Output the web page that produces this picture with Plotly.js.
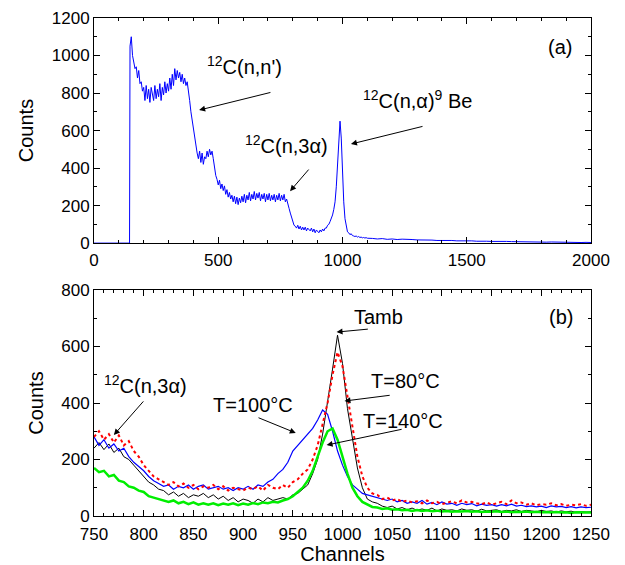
<!DOCTYPE html>
<html>
<head>
<meta charset="utf-8">
<script src="https://cdn.plot.ly/plotly-3.0.1.min.js"></script>
<style>html,body{margin:0;padding:0;background:#fff;}#chart{width:625px;height:565px;}</style>
</head>
<body>
<div id="chart"></div>
<script>
// ---------- Panel (a): full spectrum ----------
const aLeadChannels = [0, 143];
const aLeadCounts = [0, 0];
const aMainStart = 145, aMainStep = 5; // channels 145..1100
const aMainCounts = [
  1050, 1100, 1000, 970, 930, 940, 880, 920, 850, 860,
  810, 830, 760, 840, 770, 820, 750, 830, 790, 760,
  840, 770, 820, 780, 850, 760, 830, 790, 860, 800,
  850, 810, 880, 820, 900, 840, 930, 870, 920, 880,
  910, 860, 900, 850, 880, 840, 860, 790, 760, 700,
  650, 600, 560, 520, 480, 450, 490, 430, 480, 420,
  460, 450, 490, 460, 500, 470, 490, 450, 400, 360,
  340, 310, 335, 290, 315, 280, 305, 260, 285, 245,
  270, 235, 255, 220, 250, 210, 245, 205, 240, 215,
  250, 220, 260, 215, 255, 230, 270, 225, 260, 235,
  275, 230, 265, 240, 270, 225, 260, 235, 265, 220,
  260, 230, 265, 225, 255, 230, 260, 220, 255, 230,
  265, 225, 255, 230, 260, 220, 235, 200, 185, 160,
  135, 110, 95, 90, 80, 95, 75, 90, 70, 85,
  70, 85, 65, 80, 70, 65, 80, 60, 75, 55,
  70, 60, 55, 70, 60, 75, 65, 80, 80, 95,
  100, 115, 130, 150, 180, 220, 300, 420, 560, 650,
  560, 380, 220, 130, 80, 60, 55, 45, 50, 40,
  38, 35, 38, 32, 35, 30, 32, 28, 30, 27,
  29, 26
];
const aTailStart = 1120, aTailStep = 20; // channels 1120..2000
const aTailCounts = [
  25, 22, 24, 20, 22, 19, 21, 18, 19, 17,
  18, 15, 16, 14, 15, 13, 14, 12, 13, 11,
  12, 10, 11, 10, 9, 10, 8, 9, 8, 7,
  8, 7, 6, 7, 6, 5, 6, 5, 4, 5,
  4, 4, 3, 4, 3
];

// ---------- Panel (b): zoom 750..1250 ----------
const bStart = 750, bStep = 5;
const tambCounts = [
  240, 260, 235, 255, 225, 240, 210, 200, 180, 160,
  140, 120, 110, 95, 90, 75, 85, 70, 80, 65,
  75, 70, 80, 65, 75, 60, 70, 55, 65, 50,
  60, 55, 45, 60, 50, 65, 55, 60, 65, 60,
  75, 80, 95, 110, 150, 200, 290, 400, 520, 640,
  540, 380, 270, 170, 100, 60, 50, 45, 35, 30,
  35, 25, 30, 22, 28, 20, 25, 20, 28, 18,
  25, 20, 22, 18, 25, 20, 22, 17, 24, 18,
  20, 22, 16, 20, 18, 22, 16, 20, 18, 15,
  20, 16, 18, 14, 18, 15, 17, 13, 16, 14,
  15
];
const t80Counts = [
  280, 300, 270, 290, 260, 285, 250, 265, 230, 210,
  180, 160, 140, 130, 120, 110, 120, 105, 115, 100,
  110, 95, 105, 100, 110, 95, 105, 90, 100, 95,
  90, 100, 95, 105, 90, 110, 100, 95, 110, 100,
  120, 130, 150, 165, 200, 250, 320, 400, 500, 580,
  530, 420, 310, 210, 140, 100, 80, 75, 60, 65,
  55, 60, 50, 55, 48, 52, 45, 55, 45, 50,
  42, 48, 52, 45, 55, 48, 50, 45, 42, 48,
  40, 45, 50, 42, 55, 45, 48, 40, 45, 38,
  42, 40, 45, 38, 42, 36, 40, 38, 42, 36,
  40
];
const t100Counts = [
  280, 250, 270, 240, 255, 230, 240, 210, 190, 175,
  160, 140, 125, 115, 105, 110, 95, 105, 100, 110,
  95, 105, 110, 95, 100, 105, 95, 100, 90, 100,
  95, 105, 95, 110, 105, 120, 130, 150, 165, 190,
  230, 250, 270, 290, 310, 340, 375, 360, 300, 230,
  180, 140, 110, 95, 80, 75, 70, 65, 60, 55,
  60, 50, 55, 45, 50, 45, 55, 42, 48, 40,
  50, 42, 45, 38, 45, 40, 44, 36, 42, 38,
  40, 35, 40, 36, 42, 35, 38, 33, 36, 32,
  35, 30, 36, 32, 34, 30, 33, 29, 32, 30,
  31
];
const t140Counts = [
  170, 155, 160, 140, 145, 125, 120, 105, 100, 90,
  85, 70, 65, 60, 55, 50, 55, 45, 50, 42,
  48, 40, 45, 40, 45, 38, 44, 40, 45, 38,
  44, 40, 46, 42, 48, 45, 50, 48, 55, 60,
  70, 85, 100, 125, 160, 210, 260, 300, 310, 270,
  210, 150, 100, 70, 50, 40, 32, 30, 25, 27,
  22, 24, 20, 22, 18, 21, 18, 20, 17, 19,
  16, 18, 15, 17, 16, 18, 15, 17, 14, 16,
  15, 17, 14, 16, 13, 15, 14, 16, 13, 15,
  13, 14, 12, 14, 12, 13, 11, 13, 12, 11,
  12
];

const seriesNames = ['Tamb', 'T=80°C', 'T=100°C', 'T=140°C'];

// channel axes (regular bins)
function channels(start, step, n) { const c = []; for (let i = 0; i < n; i++) c.push(start + i * step); return c; }
const aX = aLeadChannels.concat(channels(aMainStart, aMainStep, aMainCounts.length), channels(aTailStart, aTailStep, aTailCounts.length));
const aY = aLeadCounts.concat(aMainCounts, aTailCounts);
const bX = channels(bStart, bStep, tambCounts.length);

const FONT = 'Arial, "Liberation Sans", sans-serif';

const traces = [
  {x: aX, y: aY, xaxis: 'x', yaxis: 'y', type: 'scatter', mode: 'lines', line: {color: '#0000ff', width: 1}, name: 'spectrum'},
  {x: bX, y: tambCounts, xaxis: 'x2', yaxis: 'y2', type: 'scatter', mode: 'lines', line: {color: '#000000', width: 1}, name: seriesNames[0]},
  {x: bX, y: t100Counts, xaxis: 'x2', yaxis: 'y2', type: 'scatter', mode: 'lines', line: {color: '#0000ff', width: 1.2}, name: seriesNames[2]},
  {x: bX, y: t140Counts, xaxis: 'x2', yaxis: 'y2', type: 'scatter', mode: 'lines', line: {color: '#00ee00', width: 2.5}, name: seriesNames[3]},
  {x: bX, y: t80Counts, xaxis: 'x2', yaxis: 'y2', type: 'scatter', mode: 'lines', line: {color: '#ff0000', width: 2, dash: 'dot'}, name: seriesNames[1]}
];

function axisBase() {
  return {
    showline: true, linecolor: '#000', linewidth: 1, mirror: 'ticks',
    ticks: 'inside', ticklen: 6, tickwidth: 1, tickcolor: '#000',
    showgrid: false, zeroline: false,
    tickfont: {family: FONT, size: 17, color: '#000'},
    fixedrange: true
  };
}

const xa = Object.assign(axisBase(), {domain: [0, 1], anchor: 'y', range: [0, 2000], dtick: 500, tick0: 0, ticklabelstandoff: 2,
  minor: {dtick: 100, ticks: 'inside', ticklen: 3, tickcolor: '#000', showgrid: false}});
const ya = Object.assign(axisBase(), {domain: [0.548, 1], anchor: 'x', range: [0, 1200], dtick: 200, tick0: 0,
  minor: {dtick: 100, ticks: 'inside', ticklen: 3, tickcolor: '#000', showgrid: false},
  title: {text: 'Counts', font: {family: FONT, size: 20, color: '#000'}, standoff: 12}});
const xb = Object.assign(axisBase(), {domain: [0, 1], anchor: 'y2', range: [750, 1250], dtick: 50, tick0: 750, ticklabelstandoff: 3,
  minor: {dtick: 10, ticks: 'inside', ticklen: 3, tickcolor: '#000', showgrid: false},
  title: {text: 'Channels', font: {family: FONT, size: 20, color: '#000'}, standoff: 0}});
const yb = Object.assign(axisBase(), {domain: [0, 0.4538], anchor: 'x2', range: [0, 800], dtick: 200, tick0: 0,
  minor: {dtick: 100, ticks: 'inside', ticklen: 3, tickcolor: '#000', showgrid: false},
  title: {text: 'Counts', font: {family: FONT, size: 20, color: '#000'}, standoff: 12}});

const AF = {family: FONT, size: 20, color: '#000'};
function label(xr, yr, x, y, text) {
  return {xref: xr, yref: yr, x: x, y: y, text: text, showarrow: false, font: AF, xanchor: 'center', yanchor: 'middle'};
}
function arrow(xr, yr, tx, ty, hx, hy) {
  return {xref: xr, yref: yr, axref: xr, ayref: yr, x: hx, y: hy, ax: tx, ay: ty, text: '', showarrow: true,
    arrowhead: 2, arrowsize: 1.2, arrowwidth: 1, arrowcolor: '#000'};
}

const annotations = [
  label('x', 'y', 604, 949, '<sup>12</sup>C(n,n\')'),
  arrow('x', 'y', 716, 805, 423, 709),
  label('x', 'y', 773, 523, '<sup>12</sup>C(n,3α)'),
  arrow('x', 'y', 869, 400, 789, 277),
  label('x', 'y', 1300, 768, '<sup>12</sup>C(n,α)<sup>9</sup> Be'),
  arrow('x', 'y', 1328, 624, 1034, 528),
  label('x', 'y', 1875, 1045, '(a)'),
  label('x2', 'y2', 1036, 704, 'Tamb'),
  arrow('x2', 'y2', 1027, 662, 994, 651),
  label('x2', 'y2', 1220, 704, '(b)'),
  label('x2', 'y2', 1063, 478, 'T=80°C'),
  arrow('x2', 'y2', 1049, 428, 1002, 407),
  label('x2', 'y2', 1061, 336, 'T=140°C'),
  arrow('x2', 'y2', 1061, 308, 984, 251),
  label('x2', 'y2', 910, 393, 'T=100°C'),
  arrow('x2', 'y2', 914, 350, 953, 294),
  label('x2', 'y2', 802, 464, '<sup>12</sup>C(n,3α)'),
  arrow('x2', 'y2', 801, 411, 770, 287)
];

const layout = {
  width: 625, height: 565,
  margin: {l: 94, r: 34, t: 18, b: 49},
  paper_bgcolor: '#fff', plot_bgcolor: '#fff',
  showlegend: false,
  font: {family: FONT, color: '#000'},
  xaxis: xa, yaxis: ya, xaxis2: xb, yaxis2: yb,
  annotations: annotations
};

Plotly.newPlot('chart', traces, layout, {staticPlot: true, displayModeBar: false});
</script>
</body>
</html>
